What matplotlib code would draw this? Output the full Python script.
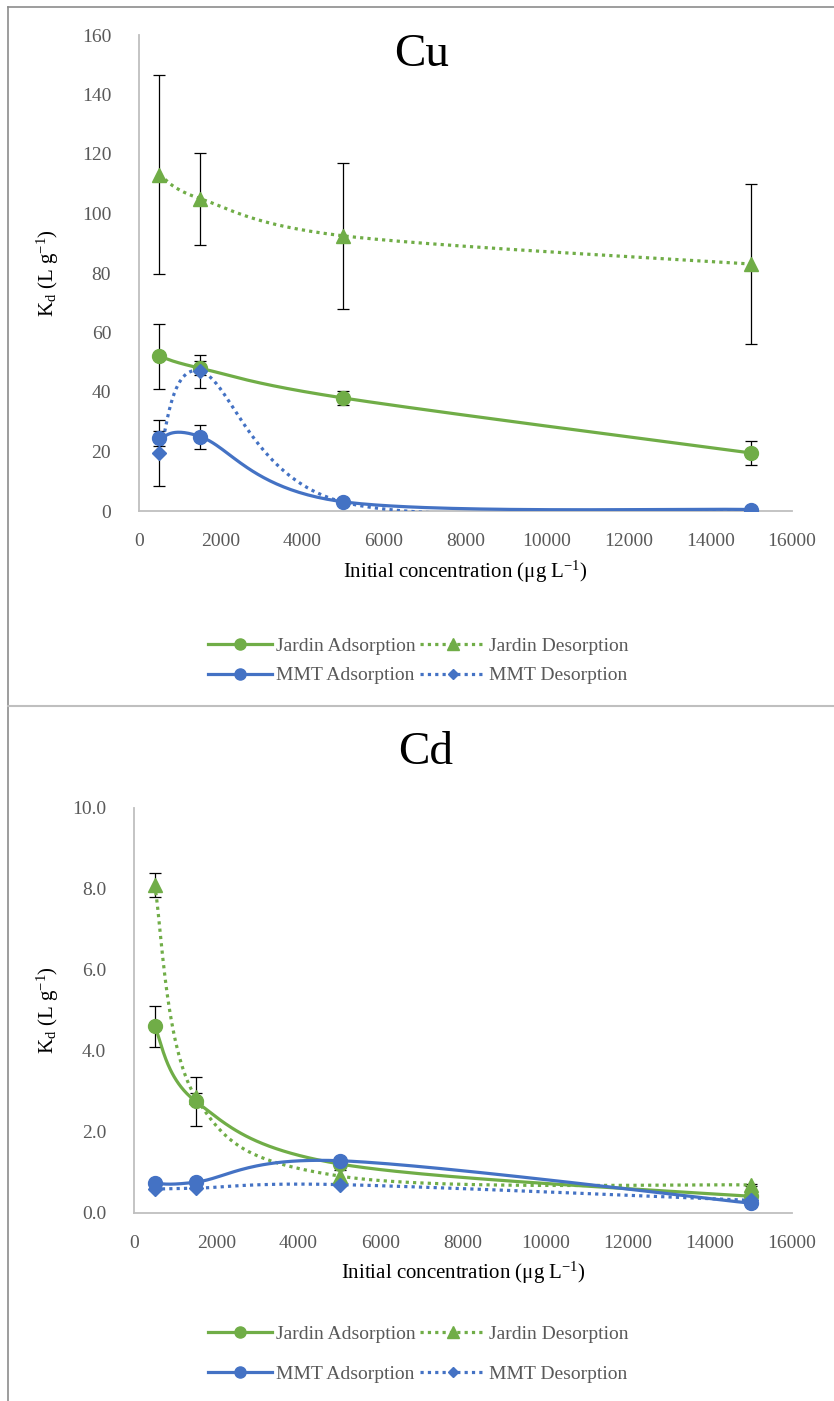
import numpy as np
import matplotlib
matplotlib.use("Agg")
import matplotlib.pyplot as plt
from matplotlib.lines import Line2D

plt.rcParams["font.family"] = ["Liberation Serif", "DejaVu Serif"]
plt.rcParams["mathtext.fontset"] = "custom"
plt.rcParams["mathtext.rm"] = "Liberation Serif"
plt.rcParams["mathtext.it"] = "Liberation Serif:italic"

conc = [500, 1500, 5000, 15000]
series_names = ["Jardin Adsorption", "Jardin Desorption", "MMT Adsorption", "MMT Desorption"]

# Cu
cu_jardin_ads = [52, 48, 38, 19.5]
cu_jardin_ads_err = [11, 2.3, 2.5, 4]
cu_jardin_des = [113, 105, 92.5, 83]
cu_jardin_des_err = [33.5, 15.5, 24.5, 27]
cu_mmt_ads = [24.5, 25, 3.1, 0.5]
cu_mmt_ads_err = [2.5, 4, 0.3, 0.1]
cu_mmt_des = [19.5, 47, 3, 0.3]
cu_mmt_des_err = [11, 5.5, 0.3, 0.1]

# Cd
cd_jardin_ads = [4.6, 2.75, 1.2, 0.4]
cd_jardin_ads_err = [0.5, 0.6, 0.08, 0.04]
cd_jardin_des = [8.1, 2.85, 0.9, 0.68]
cd_jardin_des_err = [0.3, 0.1, 0.15, 0.03]
cd_mmt_ads = [0.72, 0.75, 1.28, 0.23]
cd_mmt_ads_err = [0.03, 0.03, 0.03, 0.02]
cd_mmt_des = [0.58, 0.6, 0.69, 0.3]
cd_mmt_des_err = [0.03, 0.03, 0.03, 0.02]

GREEN = "#70AD47"
BLUE = "#4472C4"
GREY_TXT = "#595959"
styles = [
    dict(color=GREEN, ls="-", marker="o", ms=10),
    dict(color=GREEN, ls=(0, (1, 1.3)), marker="^", ms=10),
    dict(color=BLUE, ls="-", marker="o", ms=10),
    dict(color=BLUE, ls=(0, (1, 1.3)), marker="D", ms=7),
]


def smooth(ax, xs, ys, n=50):
    # Excel-style smoothed line: cubic bezier through points, built in pixel space
    pts = ax.transData.transform(np.column_stack([xs, ys]))
    ext = np.vstack([pts[0], pts, pts[-1]])
    t = np.linspace(0, 1, n)[:, None]
    out = []
    for i in range(len(pts) - 1):
        p0, p1, p2, p3 = ext[i], ext[i + 1], ext[i + 2], ext[i + 3]
        c1 = p1 + (p2 - p0) / 6
        c2 = p2 - (p3 - p1) / 6
        seg = (1 - t) ** 3 * p1 + 3 * (1 - t) ** 2 * t * c1 + 3 * (1 - t) * t ** 2 * c2 + t ** 3 * p2
        out.append(seg if i == 0 else seg[1:])
    return ax.transData.inverted().transform(np.vstack(out))


def panel(fig, rect, title, title_xy, data, ylim, yticks, yfmt, xlab_y, ylab_x, leg_y, leg_space):
    ax = fig.add_axes(rect)
    ax.set_xlim(0, 16000)
    ax.set_ylim(*ylim)
    ax.set_xticks(range(0, 16001, 2000))
    ax.set_yticks(yticks)
    ax.set_yticklabels([yfmt.format(v) for v in yticks])
    for s in ("top", "right"):
        ax.spines[s].set_visible(False)
    for s in ("left", "bottom"):
        ax.spines[s].set_color("#BFBFBF")
        ax.spines[s].set_linewidth(1.3)
    ax.tick_params(length=0, labelsize=14, labelcolor=GREY_TXT)
    ax.tick_params(axis="y", pad=20)
    ax.tick_params(axis="x", pad=16)

    handles = []
    for (vals, err), st, name in zip(data, styles, series_names):
        ax.errorbar(conc, vals, yerr=err, fmt="none", ecolor="black", elinewidth=0.9,
                    capsize=4.5, capthick=0.9, zorder=2)
        curve = smooth(ax, conc, vals)
        ax.plot(curve[:, 0], curve[:, 1], color=st["color"], ls=st["ls"], lw=2.3, zorder=3)
        ax.plot(conc, vals, ls="none", marker=st["marker"], ms=st["ms"], color=st["color"], zorder=4)
        handles.append(Line2D([], [], color=st["color"], ls=st["ls"], lw=2.3,
                              marker=st["marker"], ms=st["ms"] * 0.8, label=name))

    fig.text(title_xy[0], title_xy[1], title, fontsize=34, ha="center", va="center")
    fig.text(rect[0] + rect[2] / 2, xlab_y, r"Initial concentration ($\mathregular{\mu}$g L$^{\mathregular{-1}}$)",
             fontsize=15, ha="center", va="center")
    fig.text(ylab_x, rect[1] + rect[3] / 2, r"K$_{\mathregular{d}}$ (L g$^{\mathregular{-1}}$)",
             fontsize=15, ha="center", va="center", rotation=90)
    # row-wise order in the legend: Jardin pair on top, MMT pair below
    order = [handles[0], handles[2], handles[1], handles[3]]
    fig.legend(handles=order, ncol=2, loc="center", bbox_to_anchor=(418 / 834, leg_y),
               frameon=False, fontsize=14, labelcolor=GREY_TXT, handlelength=3.3,
               handletextpad=0.2, columnspacing=0.25, labelspacing=leg_space, numpoints=1)
    return ax


W, H = 834, 1401
fig = plt.figure(figsize=(W / 100, H / 100), dpi=100)

cu = [(cu_jardin_ads, cu_jardin_ads_err), (cu_jardin_des, cu_jardin_des_err),
      (cu_mmt_ads, cu_mmt_ads_err), (cu_mmt_des, cu_mmt_des_err)]
cd = [(cd_jardin_ads, cd_jardin_ads_err), (cd_jardin_des, cd_jardin_des_err),
      (cd_mmt_ads, cd_mmt_ads_err), (cd_mmt_des, cd_mmt_des_err)]

panel(fig, [139 / W, 1 - 511 / H, (792 - 139) / W, (511 - 35) / H], "Cu", (422 / W, 1 - 55 / H),
      cu, (0, 160), list(range(0, 161, 20)), "{:d}", 1 - 572 / H, 48 / W, 1 - 661 / H, 0.6)
panel(fig, [134 / W, 1 - 1212.5 / H, (792 - 134) / W, (1212.5 - 808) / H], "Cd", (426 / W, 1 - 753 / H),
      cd, (0, 10), [0, 2, 4, 6, 8, 10], "{:.1f}", 1 - 1273 / H, 48 / W, 1 - 1354 / H, 1.15)

# outer frame lines like the pasted chart boxes
frame = dict(color="#8C8C8C", lw=1.2, transform=fig.transFigure)
fig.add_artist(Line2D([8 / W, 1], [1 - 7 / H, 1 - 7 / H], **frame))
fig.add_artist(Line2D([8 / W, 8 / W], [0, 1 - 7 / H], **frame))
fig.add_artist(Line2D([8 / W, 1], [1 - 706 / H, 1 - 706 / H], color="#BFBFBF", lw=1.5,
                      transform=fig.transFigure))

fig.savefig("out.png", dpi=100)
